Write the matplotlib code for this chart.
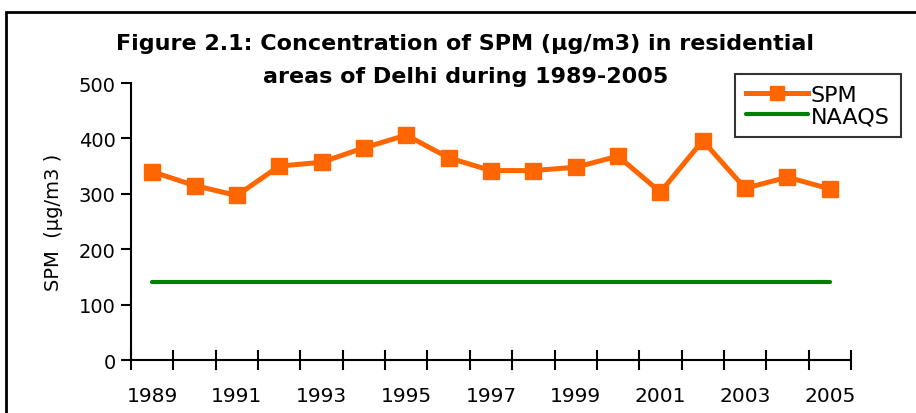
import matplotlib
matplotlib.use('Agg')
import matplotlib.pyplot as plt
from matplotlib.patches import Rectangle

plt.rcParams['font.family'] = ['DejaVu Sans']

years = list(range(1989, 2006))
spm = [340, 315, 297, 350, 357, 383, 406, 365, 342, 342, 348, 368, 303, 396, 310, 330, 309]
naaqs = [140] * len(years)

fig = plt.figure(figsize=(9.16, 4.14), dpi=100)
ax = fig.add_axes([0.143, 0.128, 0.786, 0.669])

x = list(range(len(years)))
ax.plot(x, spm, color='#FF6600', lw=3.6, marker='s', ms=12, mec='#FF6600', label='SPM', zorder=3)
ax.plot(x, naaqs, color='#008000', lw=3, solid_capstyle='round', label='NAAQS', zorder=2)

ax.set_xlim(-0.5, len(years) - 0.5)
ax.set_ylim(0, 500)
ax.set_yticks([0, 100, 200, 300, 400, 500])
ax.tick_params(axis='y', labelsize=14, direction='out', length=7, width=1.5, pad=4)

# year labels on every other category, tick marks between categories
ax.set_xticks(x[::2])
ax.set_xticklabels([str(y) for y in years[::2]])
ax.set_xticks([i - 0.5 for i in range(len(years) + 1)], minor=True)
ax.tick_params(axis='x', which='major', length=0, labelsize=14.5, pad=19)
ax.tick_params(axis='x', which='minor', direction='inout', length=14, width=1.5)

for s in ['top', 'right']:
    ax.spines[s].set_visible(False)
for s in ['left', 'bottom']:
    ax.spines[s].set_linewidth(1.5)

ax.set_ylabel('SPM  (µg/m3 )', fontsize=14, labelpad=11)

fig.text(0.508, 0.893, 'Figure 2.1: Concentration of SPM (µg/m3) in residential',
         ha='center', va='center', fontsize=16, fontweight='bold')
fig.text(0.508, 0.813, 'areas of Delhi during 1989-2005',
         ha='center', va='center', fontsize=16, fontweight='bold')

leg = fig.legend(loc='upper left', bbox_to_anchor=(735 / 916, 1 - 75 / 414), fontsize=16,
                 frameon=True, fancybox=False, edgecolor='black', handlelength=2.8,
                 handletextpad=0.1, borderpad=0.5, labelspacing=0.05, borderaxespad=0,
                 markerscale=0.85)
leg.get_frame().set_linewidth(1.5)

# outer chart border
fig.add_artist(Rectangle((6 / 916, -0.1), 1.2, 1 - 13 / 414 + 0.1, transform=fig.transFigure,
                         fill=False, edgecolor='black', lw=2))

fig.savefig('out.png', dpi=100)
